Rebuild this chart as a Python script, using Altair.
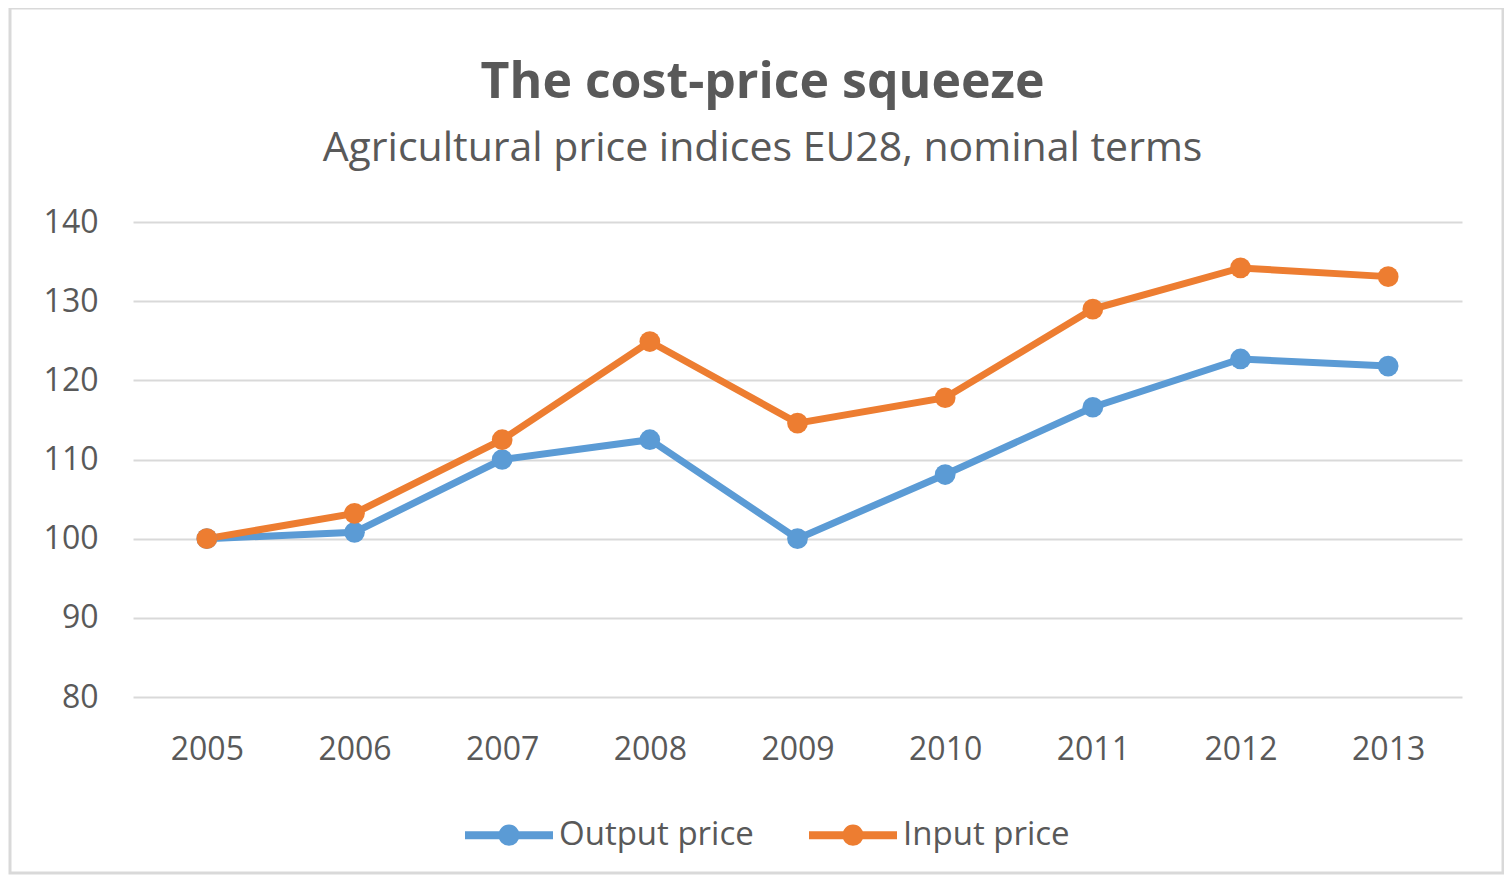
import altair as alt
import pandas as pd

FONT = "Open Sans"
TEXT = "#595959"

years = ["2005", "2006", "2007", "2008", "2009", "2010", "2011", "2012", "2013"]
output_price = [100.0, 100.8, 110.0, 112.5, 100.0, 108.1, 116.6, 122.7, 121.8]
input_price = [100.0, 103.2, 112.5, 124.9, 114.6, 117.8, 129.0, 134.2, 133.1]
series_names = ["Output price", "Input price"]
series_colors = ["#5B9BD5", "#ED7D31"]
y_ticks = [80, 90, 100, 110, 120, 130, 140]

df = pd.DataFrame({
    "year": years + years,
    "value": output_price + input_price,
    "series": [series_names[0]] * len(years) + [series_names[1]] * len(years),
})

# legend symbol: a line with a dot in the middle
r = 0.15
legend_path = (
    f"M-1,0L1,0M-{r},0A{r},{r},0,1,0,{r},0A{r},{r},0,1,0,-{r},0Z"
)

color = alt.Color(
    "series:N",
    scale=alt.Scale(domain=series_names, range=series_colors),
    legend=alt.Legend(
        title=None,
        orient="none",
        legendX=328,
        legendY=565,
        direction="horizontal",
        symbolType=legend_path,
        symbolSize=7744,
        symbolStrokeWidth=8,
        labelFont=FONT,
        labelFontSize=33,
        labelColor=TEXT,
        labelOffset=2,
        labelLimit=400,
        columnPadding=39,
    ),
)

x = alt.X(
    "year:O",
    sort=years,
    scale=alt.Scale(padding=0.5),
    axis=alt.Axis(
        title=None, labelAngle=0, domain=False, ticks=False, tickSize=0,
        labelPadding=37, labelFont=FONT, labelFontSize=32, labelColor=TEXT,
        grid=False,
    ),
)
y = alt.Y(
    "value:Q",
    scale=alt.Scale(domain=[80, 140], nice=False, zero=False),
    axis=alt.Axis(
        title=None, values=y_ticks, domain=False, ticks=False, tickSize=0,
        labelPadding=35, labelFont=FONT, labelFontSize=32, labelColor=TEXT,
        grid=True, gridColor="#d9d9d9", gridWidth=2,
    ),
)

base = alt.Chart(df)
lines = base.mark_line(strokeWidth=7).encode(x=x, y=y, color=color, detail="series:N")
points = base.mark_point(filled=True, size=430, opacity=1).encode(x=x, y=y, color=color)

frame = alt.Chart(pd.DataFrame({"k": [0]})).mark_rect(
    fillOpacity=0, stroke="#d9d9d9", strokeWidth=3
).encode(
    x=alt.value(-123), x2=alt.value(1370), y=alt.value(-214), y2=alt.value(651)
)

chart = alt.layer(frame, lines, points).properties(
    width=1329,
    height=475,
    title=alt.TitleParams(
        text="The cost-price squeeze",
        subtitle="Agricultural price indices EU28, nominal terms",
        anchor="middle",
        frame="group",
        dx=-35,
        font=FONT,
        fontSize=50,
        fontWeight="bold",
        color=TEXT,
        subtitleFont=FONT,
        subtitleFontSize=41,
        subtitleColor=TEXT,
        subtitlePadding=21,
        offset=-162,
    ),
    autosize=alt.AutoSizeParams(type="none"),
    padding={"left": 125, "top": 214, "right": 42, "bottom": 178},
).configure(background="white").configure_view(stroke=None)

chart.save("out.html", embed_options={"renderer": "svg", "actions": False})
